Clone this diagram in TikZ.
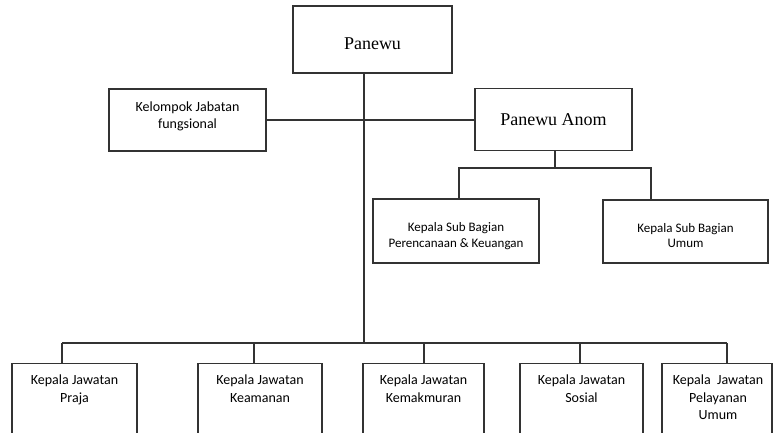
\documentclass[tikz,border=0pt]{standalone}
\usepackage{fontspec}
\setmainfont{Liberation Serif}
\newfontfamily\calfont{Carlito}
\begin{document}
\begin{tikzpicture}[x=1pt,y=-1pt,
  box/.style={draw=black!80, line width=1.1pt, rectangle, inner sep=0pt},
  conn/.style={draw=black!80, line width=1.1pt},
  big/.style={font=\fontsize{18}{22}\selectfont, inner sep=0pt},
  mid/.style={font=\calfont\fontsize{14}{17}\selectfont, align=center, inner sep=0pt},
  small/.style={font=\calfont\fontsize{13}{15.5}\selectfont, align=center, inner sep=0pt},
  bottxt/.style={font=\calfont\fontsize{14}{17.5}\selectfont, align=center, inner sep=0pt, anchor=north}
]
\useasboundingbox (0,0) rectangle (774,432);
\clip (0,0) rectangle (774,432);

% top boxes
\node[box, minimum width=159pt, minimum height=67pt] (panewu) at (372.5,39.5) {};
\node[big] (panewuT) at ([yshift=-4.5pt]panewu.center) {Panewu};

\node[box, minimum width=157pt, minimum height=62pt] (kjf) at (187.5,120) {};
\node[mid] (kjfT) at ([yshift=3.5pt]kjf.center) {Kelompok Jabatan\\fungsional};

\node[box, minimum width=157pt, minimum height=62pt] (anom) at (553.5,119.5) {};
\node[big] (anomT) at (anom.center) {Panewu Anom};

\node[box, minimum width=166pt, minimum height=64pt] (spk) at (456,231) {};
\node[small] (spkT) at ([yshift=-5pt]spk.center) {Kepala Sub Bagian\\Perencanaan \& Keuangan};

\node[box, minimum width=165pt, minimum height=63pt] (su) at (685.5,231.5) {};
\node[small] (suT) at ([yshift=-4pt]su.center) {Kepala Sub Bagian\\Umum};

% bottom boxes (cut off by the page edge)
\node[box, anchor=north, minimum width=125pt, minimum height=85pt] (praja) at (74.5,363) {};
\node[box, anchor=north, minimum width=124pt, minimum height=85pt] (keam) at (260,363) {};
\node[box, anchor=north, minimum width=121pt, minimum height=85pt] (kemak) at (423.5,363) {};
\node[box, anchor=north, minimum width=123pt, minimum height=85pt] (sos) at (581.5,363) {};
\node[box, anchor=north, minimum width=110pt, minimum height=85pt] (pel) at (717,363) {};

\node[bottxt] (prajaT) at ([yshift=-12pt]praja.north) {Kepala Jawatan\\Praja};
\node[bottxt] (keamT) at ([yshift=-12pt]keam.north) {Kepala Jawatan\\Keamanan};
\node[bottxt] (kemakT) at ([yshift=-12pt]kemak.north) {Kepala Jawatan\\Kemakmuran};
\node[bottxt] (sosT) at ([yshift=-12pt]sos.north) {Kepala Jawatan\\Sosial};
\node[bottxt] (pelT) at ([xshift=1pt,yshift=-12pt]pel.north) {Kepala\ \ Jawatan\\Pelayanan\\Umum};

% connector points
\coordinate (trunk) at (364,343);
\coordinate (anomBus) at (555,168);
\coordinate (sbL) at (459,168);
\coordinate (sbR) at (651,168);
\coordinate (b1) at (62,343);
\coordinate (b2) at (254,343);
\coordinate (b3) at (424,343);
\coordinate (b4) at (580,343);
\coordinate (b5) at (727,343);

% main trunk
\draw[conn] (panewu.south -| trunk) -- (trunk);
% horizontal link functional group - Panewu Anom
\draw[conn] (kjf.east) -- (kjf.east -| anom.west);
% Panewu Anom to sub-sections
\draw[conn] (anom.south -| anomBus) -- (anomBus);
\draw[conn] (sbL |- spk.north) -- (sbL) -- (sbR) -- (sbR |- su.north);
% bottom bus
\draw[conn] (b1) -- (b5);
\draw[conn] (b1) -- (b1 |- praja.north);
\draw[conn] (b2) -- (b2 |- keam.north);
\draw[conn] (b3) -- (b3 |- kemak.north);
\draw[conn] (b4) -- (b4 |- sos.north);
\draw[conn] (b5) -- (b5 |- pel.north);
\end{tikzpicture}
\end{document}
